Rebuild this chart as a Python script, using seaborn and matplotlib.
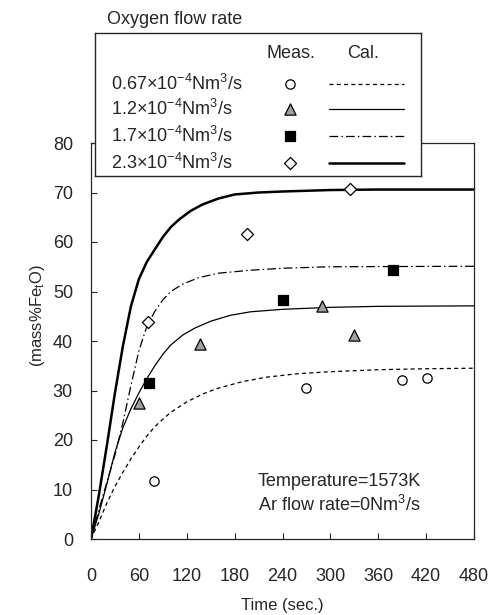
import numpy as np
import pandas as pd
import matplotlib
matplotlib.use("Agg")
import matplotlib.pyplot as plt
import seaborn as sns
from matplotlib.lines import Line2D

# measured points (time s, mass% FetO)
meas_t_067 = [79, 270, 390, 421]
meas_y_067 = [11.8, 30.6, 32.1, 32.6]
meas_t_12 = [60, 136, 289, 330]
meas_y_12 = [27.5, 39.4, 47.1, 41.2]
meas_t_17 = [73, 240, 378]
meas_y_17 = [31.6, 48.3, 54.4]
meas_t_23 = [71, 196, 324]
meas_y_23 = [43.8, 61.7, 70.7]

# calculated curves
cal_t_067 = [0, 10, 20, 30, 40, 50, 60, 70, 80, 90, 100, 120, 140, 160, 190,
             220, 260, 300, 360, 420, 480]
cal_y_067 = [0, 3.5, 7.3, 10.6, 13.5, 16.2, 18.6, 20.8, 22.7, 24.2, 25.6, 27.7,
             29.3, 30.5, 31.8, 32.7, 33.4, 33.8, 34.2, 34.4, 34.5]
cal_t_12 = [0, 10, 20, 30, 40, 50, 60, 70, 80, 90, 100, 115, 130, 150, 175,
            200, 240, 300, 360, 480]
cal_y_12 = [0, 5.2, 11.2, 17.5, 22.5, 26.3, 29.5, 32.4, 35.0, 37.3, 39.2, 41.2,
            42.6, 44.0, 45.2, 45.9, 46.4, 46.8, 47.0, 47.1]
cal_t_17 = [0, 10, 20, 30, 40, 50, 60, 70, 80, 90, 100, 115, 135, 160, 200,
            240, 300, 480]
cal_y_17 = [0, 6.0, 11.5, 17.0, 23.5, 31.0, 38.0, 43.0, 46.0, 48.3, 50.0, 51.5,
            52.8, 53.7, 54.3, 54.7, 55.0, 55.1]
cal_t_23 = [0, 10, 20, 30, 40, 50, 60, 70, 80, 90, 100, 110, 125, 140, 160,
            180, 210, 240, 300, 360, 480]
cal_y_23 = [0, 9.0, 19.0, 29.5, 39.0, 47.0, 52.5, 56.0, 58.5, 61.0, 63.0, 64.5,
            66.3, 67.6, 68.8, 69.6, 70.0, 70.2, 70.5, 70.6, 70.6]

flow_labels = [r"0.67$\times$10$^{-4}$Nm$^{3}$/s",
               r"1.2$\times$10$^{-4}$Nm$^{3}$/s",
               r"1.7$\times$10$^{-4}$Nm$^{3}$/s",
               r"2.3$\times$10$^{-4}$Nm$^{3}$/s"]
x_ticks = [0, 60, 120, 180, 240, 300, 360, 420, 480]
y_ticks = [0, 10, 20, 30, 40, 50, 60, 70, 80]

sns.set_style("ticks")
plt.rcParams['font.family'] = ['Liberation Sans', 'DejaVu Sans']
plt.rcParams['mathtext.fontset'] = 'custom'
plt.rcParams['mathtext.rm'] = 'Liberation Sans'
plt.rcParams['mathtext.it'] = 'Liberation Sans:italic'
plt.rcParams['font.size'] = 13

# styles per series
line_styles = [(0, (3.2, 2.6)), '-', (0, (7, 2.5, 1.2, 2.5)), '-']
line_widths = [0.9, 0.9, 0.9, 1.8]
markers = ['o', '^', 's', 'D']
face_cols = ['white', '#a0a0a0', 'black', 'white']
sizes = [45, 65, 48, 38]

fig = plt.figure(figsize=(4.94, 6.15), dpi=100)
ax = fig.add_axes([91/494, 1-539/615, 383/494, 396/615])

cal_t = [cal_t_067, cal_t_12, cal_t_17, cal_t_23]
cal_y = [cal_y_067, cal_y_12, cal_y_17, cal_y_23]
meas_t = [meas_t_067, meas_t_12, meas_t_17, meas_t_23]
meas_y = [meas_y_067, meas_y_12, meas_y_17, meas_y_23]

for i in range(4):
    sns.lineplot(x=cal_t[i], y=cal_y[i], ax=ax, color='black',
                 linestyle=line_styles[i], linewidth=line_widths[i])
for i in range(4):
    sns.scatterplot(x=meas_t[i], y=meas_y[i], ax=ax, marker=markers[i],
                    s=sizes[i], color=face_cols[i], edgecolor='black',
                    linewidth=0.9, zorder=4)

ax.set_xlim(0, 480)
ax.set_ylim(0, 80)
ax.set_xticks(x_ticks)
ax.set_yticks(y_ticks)
ax.tick_params(direction='in', length=4, width=0.8, labelsize=13)
ax.tick_params(axis='x', pad=21)
ax.tick_params(axis='y', pad=13)
for sp in ax.spines.values():
    sp.set_linewidth(0.9)
ax.set_xlabel("Time (sec.)", fontsize=12, labelpad=9)
ax.set_ylabel(r"(mass%Fe$_{\mathrm{t}}$O)", fontsize=12)
ax.yaxis.set_label_coords(-0.115, 0.563)

ax.text(0.436, 0.146, "Temperature=1573K", transform=ax.transAxes,
        fontsize=13, va='center', ha='left')
ax.text(0.436, 0.086, r"Ar flow rate=0Nm$^{3}$/s", transform=ax.transAxes,
        fontsize=13, va='center', ha='left')

# legend box drawn by hand in pixel-like coords
lax = fig.add_axes([95/494, 1-176/615, 326/494, 143/615], zorder=5)
lax.set_facecolor('white')
lax.set_xlim(0, 326)
lax.set_ylim(143, 0)
lax.set_xticks([])
lax.set_yticks([])
for sp in lax.spines.values():
    sp.set_linewidth(1.0)
lax.text(196, 21, "Meas.", ha='center', va='center', fontsize=13)
lax.text(268, 21, "Cal.", ha='center', va='center', fontsize=13)
row_y = [51, 76, 103, 130]
for i in range(4):
    lax.text(16, row_y[i], flow_labels[i], ha='left', va='center', fontsize=13)
    lax.scatter([195], [row_y[i]], marker=markers[i], s=sizes[i],
                color=face_cols[i], edgecolor='black', linewidth=0.9)
    lax.add_line(Line2D([234, 309], [row_y[i], row_y[i]], color='black',
                        linestyle=line_styles[i], linewidth=line_widths[i]))

fig.text(107/494, 1-20/615, "Oxygen flow rate", ha='left', va='center',
         fontsize=13)

fig.savefig("out.png", dpi=100)
